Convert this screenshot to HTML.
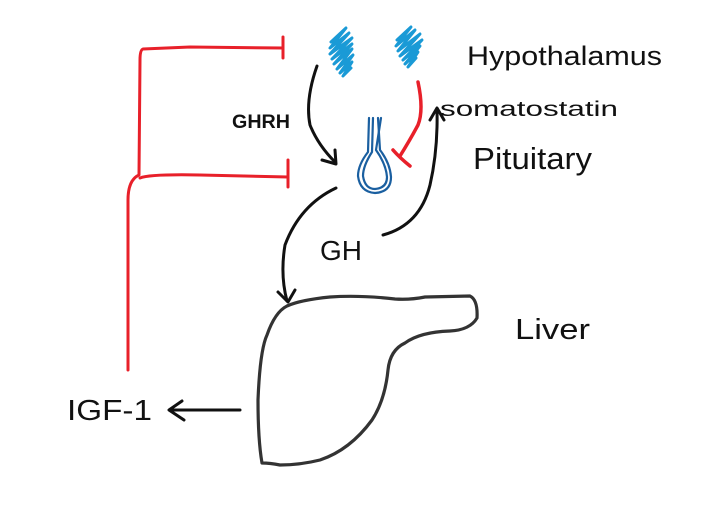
<!DOCTYPE html>
<html><head><style>
html,body{margin:0;padding:0;background:#fff;}
svg{display:block}
text{font-family:"Liberation Sans",sans-serif;fill:#111;}
</style></head><body>
<svg width="710" height="516" viewBox="0 0 710 516" xmlns="http://www.w3.org/2000/svg">
<g fill="none" stroke-linecap="round" stroke-linejoin="round">
<g stroke="#e8202a" stroke-width="3">
<path d="M283,48 L190,47 L143,49 Q140,50 140,60 L139,175 Q128,180 128,200 L128,370"/>
<path d="M283,37 L283,58"/>
<path d="M140,178 Q150,174 200,175 L288,177"/>
<path d="M288,160 L288,187"/>
<path d="M418,82 Q424,110 418,125 Q410,140 400,156" stroke-width="3.5"/>
<path d="M393,150 Q400,158 410,166" stroke-width="3.5"/>
</g>
<g stroke="#1a9ad6" stroke-width="3">
<path d="M331,42 L346,28 L330,48 L349,33 L330,54 L352,38 L332,59 L352,44 L334,64 L352,49 L337,69 L353,55 L340,73 L352,62 L343,76 L351,68"/>
<path d="M397,40 L411,27 L396,46 L415,30 L398,51 L420,34 L400,56 L422,40 L403,60 L420,46 L405,64 L418,52 L408,67 L416,58"/>
</g>
<g stroke="#1a5fa0" stroke-width="2.2">
<path d="M369,118 L368,152 Q358,165 358,176 Q360,192 375,193 Q391,192 391,177 Q390,163 380,150 L378,118"/>
<path d="M373,118 L372,152 Q363,166 363,176 Q365,189 375,189 Q387,188 387,177 Q386,164 376,150 L381,118"/>
</g>
<g stroke="#111" stroke-width="3">
<path d="M317,66 Q305,100 310,125 Q318,145 335,162"/>
<path d="M322,160 L336,164 L335,150"/>
<path d="M383,235 Q420,225 430,185 Q438,150 437,110"/>
<path d="M430,120 L437,108 L444,120"/>
<path d="M336,188 Q300,205 285,245 Q280,275 287,301"/>
<path d="M278,292 L288,302 L295,290"/>
<path d="M240,410 L172,410"/>
<path d="M182,401 L169,410 L184,420"/>
</g>
<path stroke="#333" stroke-width="3.2" d="M287,306 Q300,300 330,297 Q360,295 395,299 Q410,300 425,297 L470,296 Q478,300 477,318 Q470,330 450,331 Q420,332 405,343 Q390,350 388,370 Q385,400 372,420 Q350,450 320,460 Q300,465 280,465 Q270,463 262,463 Q258,440 258,400 Q260,350 267,335 Q275,312 287,306 Z"/>
</g>
<text x="467" y="65" font-size="27" textLength="195" lengthAdjust="spacingAndGlyphs">Hypothalamus</text>
<text x="440" y="116" font-size="21" textLength="178" lengthAdjust="spacingAndGlyphs">somatostatin</text>
<text x="473" y="169" font-size="31" textLength="119" lengthAdjust="spacingAndGlyphs">Pituitary</text>
<text x="232" y="128" font-size="19" font-weight="bold" textLength="58" lengthAdjust="spacingAndGlyphs">GHRH</text>
<text x="320" y="260" font-size="28" textLength="42" lengthAdjust="spacingAndGlyphs">GH</text>
<text x="515" y="339" font-size="29" textLength="75" lengthAdjust="spacingAndGlyphs">Liver</text>
<text x="67" y="420" font-size="29" textLength="85" lengthAdjust="spacingAndGlyphs">IGF-1</text>
</svg>
</body></html>
